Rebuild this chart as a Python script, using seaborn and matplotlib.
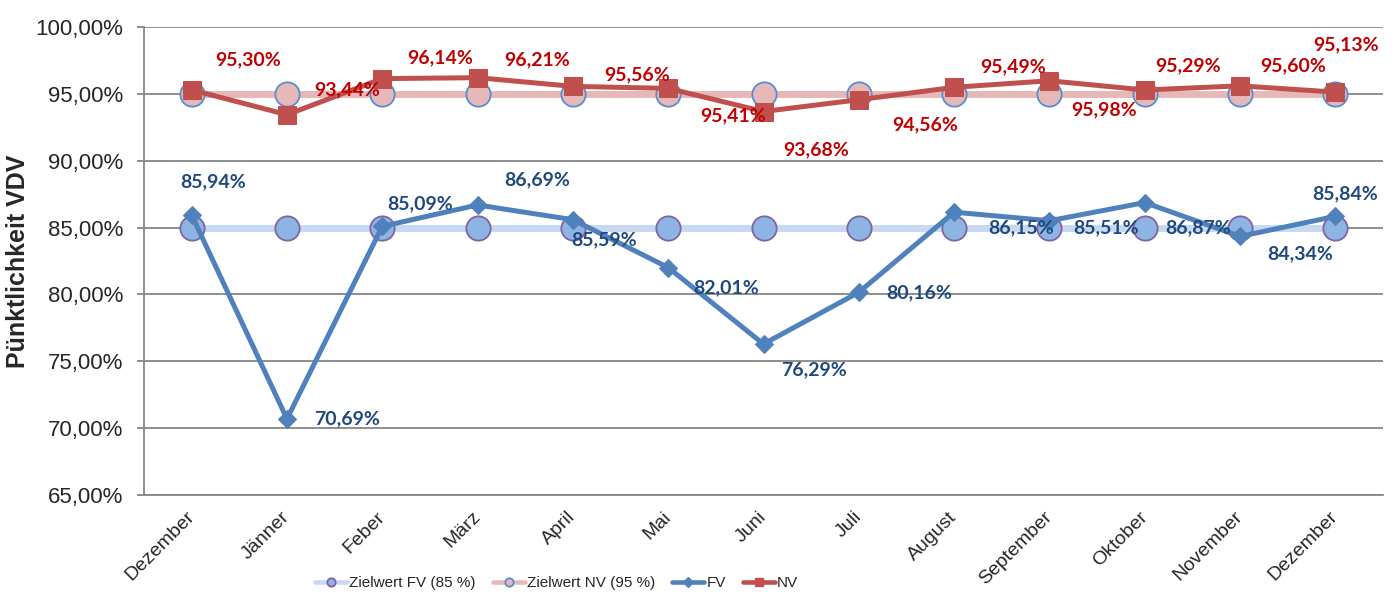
import numpy as np
import pandas as pd
import seaborn as sns
import matplotlib.pyplot as plt
from matplotlib.lines import Line2D
from matplotlib.ticker import FuncFormatter, FixedLocator
from matplotlib import font_manager

# Daten
monate = ["Dezember", "Jänner", "Feber", "März", "April", "Mai", "Juni",
          "Juli", "August", "September", "Oktober", "November", "Dezember"]
fv = [85.94, 70.69, 85.09, 86.69, 85.59, 82.01, 76.29, 80.16, 86.15, 85.51, 86.87, 84.34, 85.84]
nv = [95.30, 93.44, 96.14, 96.21, 95.56, 95.41, 93.68, 94.56, 95.49, 95.98, 95.29, 95.60, 95.13]
ziel_fv = [85.0] * len(monate)
ziel_nv = [95.0] * len(monate)

# Position der Datenbeschriftungen (Pixel relativ zum Punkt)
nv_off = [(56, 30), (60, 25), (58, 21), (60, 18), (64, 12), (65, -27), (53, -38),
          (66, -25), (59, 21), (55, -29), (43, 24), (53, 20), (11, 47)]
fv_off = [(21, 33), (60, 0), (38, 23), (60, 25), (31, -20), (58, -20), (51, -26),
          (60, 0), (67, -16), (57, -7), (53, -25), (60, -17), (10, 23)]

sns.set_style("white")
plt.rcParams['font.family'] = ['Liberation Sans', 'DejaVu Sans']

df = pd.DataFrame({"pos": np.arange(len(monate)), "FV": fv, "NV": nv,
                   "ZFV": ziel_fv, "ZNV": ziel_nv})

fig = plt.figure(figsize=(13.98, 5.99), dpi=100)
ax = fig.add_axes([144 / 1398, 1 - 495 / 599, (1383 - 144) / 1398, (495 - 27) / 599])

grau = "#868686"
c_fv, c_nv = "#4F81BD", "#C0504D"

sns.lineplot(data=df, x="pos", y="ZNV", ax=ax, color="#E6B9B8", linewidth=5,
             marker="o", markersize=17.5, markerfacecolor="#E6B9B8",
             markeredgecolor="#558ED5", markeredgewidth=1.3, zorder=2)
sns.lineplot(data=df, x="pos", y="ZFV", ax=ax, color="#C6D9F1", linewidth=5,
             marker="o", markersize=17.5, markerfacecolor="#8EB4E3",
             markeredgecolor="#8064A2", markeredgewidth=1.3, zorder=2)
sns.lineplot(data=df, x="pos", y="FV", ax=ax, color=c_fv, linewidth=3.6,
             marker="D", markersize=9.5, markerfacecolor=c_fv,
             markeredgecolor=c_fv, zorder=3)
sns.lineplot(data=df, x="pos", y="NV", ax=ax, color=c_nv, linewidth=3.6,
             marker="s", markersize=13, markerfacecolor=c_nv,
             markeredgecolor=c_nv, zorder=3)

lab_font = ['Lato', 'DejaVu Sans']
for i, v in enumerate(nv):
    ax.annotate(f"{v:.2f}%".replace(".", ","), (i, v), xytext=nv_off[i],
                textcoords="offset pixels", ha="center", va="center",
                fontsize=14, fontweight="bold", color="#C00000",
                family=lab_font, zorder=5)
for i, v in enumerate(fv):
    ax.annotate(f"{v:.2f}%".replace(".", ","), (i, v), xytext=fv_off[i],
                textcoords="offset pixels", ha="center", va="center",
                fontsize=14, fontweight="bold", color="#1F497D",
                family=lab_font, zorder=5)

# Achsen
ax.set_xlim(-0.5, len(monate) - 0.5)
ax.set_ylim(65, 100)
ax.set_yticks(np.arange(65, 100.1, 5))
ax.yaxis.set_major_formatter(FuncFormatter(lambda v, p: f"{v:.2f}%".replace(".", ",")))
ax.yaxis.grid(True, color=grau, linewidth=1.3)
ax.set_xticks(df["pos"])
ax.set_xticklabels(monate, rotation=45, ha="right", va="center",
                   rotation_mode="anchor", fontsize=14)
ax.xaxis.set_minor_locator(FixedLocator(np.arange(-0.5, len(monate), 1)))
ax.tick_params(axis="x", which="major", length=0, pad=14)
ax.tick_params(axis="x", which="minor", length=5, width=1.3, color=grau, direction="out")
ax.tick_params(axis="y", length=5, width=1.3, color=grau, direction="out",
               labelsize=16, pad=10, left=True)
for s in ["top", "right"]:
    ax.spines[s].set_visible(False)
for s in ["left", "bottom"]:
    ax.spines[s].set_color(grau)
    ax.spines[s].set_linewidth(1.3)
ax.set_xlabel("")
ax.set_ylabel("Pünktlichkeit VDV", fontsize=18, fontweight="bold")
ax.yaxis.set_label_coords(-0.092, 0.5)

if ax.get_legend() is not None:
    ax.get_legend().remove()

# Legende
handles = [
    Line2D([], [], color="#C6D9F1", lw=3.3, marker="o", ms=6, mfc="#8EB4E3", mec="#8064A2", mew=1.3),
    Line2D([], [], color="#E6B9B8", lw=3.3, marker="o", ms=6, mfc="#E6B9B8", mec="#558ED5", mew=1.3),
    Line2D([], [], color=c_fv, lw=3.3, marker="D", ms=5, mfc=c_fv, mec=c_fv),
    Line2D([], [], color=c_nv, lw=3.3, marker="s", ms=6, mfc=c_nv, mec=c_nv),
]
namen = ["Zielwert FV (85 %)", "Zielwert NV (95 %)", "FV", "NV"]
installiert = {f.name for f in font_manager.fontManager.ttflist}
if "Liberation Sans Narrow" in installiert:
    leg_font = {"family": ["Liberation Sans Narrow", "DejaVu Sans"], "size": 12.5}
else:
    leg_font = {"family": ["Liberation Sans", "DejaVu Sans"], "size": 11}
fig.legend(handles, namen, ncol=4, loc="center left",
           bbox_to_anchor=(315 / 1398, 1 - 583 / 599), frameon=False, prop=leg_font,
           handlelength=2.1, handletextpad=0.15, columnspacing=1.1,
           borderpad=0, borderaxespad=0, numpoints=1)

plt.savefig("out.png", dpi=100)
